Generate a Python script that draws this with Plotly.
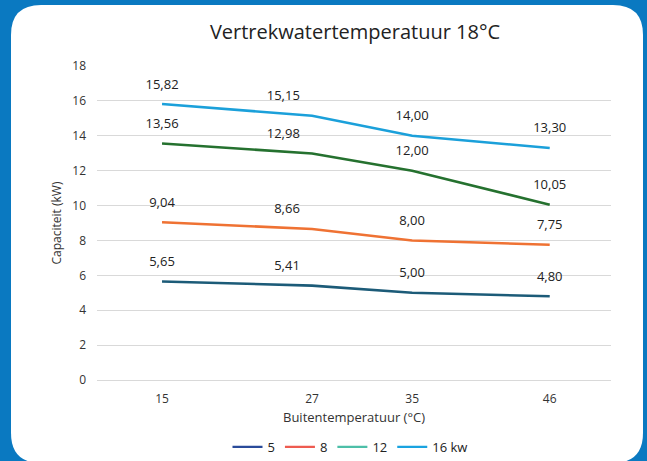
import plotly.graph_objects as go

# ---- data ----
outdoor_temp = [15, 27, 35, 46]
series_names = ["5", "8", "12", "16 kw"]
cap_5 = [5.65, 5.41, 5.00, 4.80]
cap_8 = [9.04, 8.66, 8.00, 7.75]
cap_12 = [13.56, 12.98, 12.00, 10.05]
cap_16 = [15.82, 15.15, 14.00, 13.30]
y_ticks = [0, 2, 4, 6, 8, 10, 12, 14, 16, 18]

W, H = 647, 461
L, R, T, B = 97, 36, 66, 81
PW, PH = W - L - R, H - T - B

line_colors = ["#1c5b78", "#ef7233", "#25712f", "#1ba0da"]
legend_colors = ["#2a4b9a", "#ee5b50", "#4dbfa8", "#1aa3e0"]
font_family = "Open Sans, Noto Sans, sans-serif"

fig = go.Figure()
positions = ["top center", "top left", "top center", "top center"]
for vals, col in zip([cap_5, cap_8, cap_12, cap_16], line_colors):
    fig.add_trace(go.Scatter(
        x=outdoor_temp, y=vals, mode="lines+markers+text",
        line=dict(color=col, width=2.6),
        marker=dict(size=18, color="rgba(0,0,0,0)"),
        texttemplate="%{y:.2f}", textposition=positions,
        textfont=dict(size=13, color="#222222", family=font_family),
        showlegend=False, hoverinfo="skip", cliponaxis=False,
    ))
for name, col in zip(series_names, legend_colors):
    fig.add_trace(go.Scatter(
        x=[None], y=[None], mode="lines", name=name,
        line=dict(color=col, width=2.2),
    ))


def px(x):
    return (x - L) / PW


def py(y):
    return (T + PH - y) / PH


x0, x1, y0, y1, r = 11, 643, 5, 463, 30
path = (
    f"M {px(x0)} {py(y0 + r)} "
    f"Q {px(x0)} {py(y0)} {px(x0 + r)} {py(y0)} "
    f"L {px(x1 - r)} {py(y0)} "
    f"Q {px(x1)} {py(y0)} {px(x1)} {py(y0 + r)} "
    f"L {px(x1)} {py(y1 - r)} "
    f"Q {px(x1)} {py(y1)} {px(x1 - r)} {py(y1)} "
    f"L {px(x0 + r)} {py(y1)} "
    f"Q {px(x0)} {py(y1)} {px(x0)} {py(y1 - r)} Z"
)

fig.update_layout(
    width=W, height=H,
    margin=dict(l=L, r=R, t=T, b=B, autoexpand=False),
    paper_bgcolor="#0a79c1",
    plot_bgcolor="rgba(0,0,0,0)",
    separators=",.",
    font=dict(family=font_family, color="#333333", size=12),
    shapes=[dict(type="path", path=path, xref="paper", yref="paper",
                 fillcolor="white", line=dict(width=0), layer="below")],
    title=dict(text="Vertrekwatertemperatuur 18°C", x=355 / W, xanchor="center",
               y=1 - 32 / H, yanchor="middle",
               font=dict(size=20, color="#222222", family=font_family)),
    xaxis=dict(range=[9.8, 50.9], tickvals=outdoor_temp, ticktext=[str(v) for v in outdoor_temp],
               showgrid=False, zeroline=False, showline=False, automargin=False,
               tickfont=dict(size=12, color="#333333"), ticklabelstandoff=10,
               title=dict(text="Buitentemperatuur (°C)", font=dict(size=13, color="#333333"), standoff=6)),
    yaxis=dict(range=[0, 18], tickvals=y_ticks, showgrid=True, gridcolor="#d9d9d9", gridwidth=1,
               zeroline=True, zerolinecolor="#d9d9d9", zerolinewidth=1, showline=False, automargin=False,
               tickfont=dict(size=12, color="#333333"), ticklabelstandoff=10,
               title=dict(text="Capaciteit (kW)", font=dict(size=12, color="#333333"), standoff=8)),
    legend=dict(orientation="h", x=350 / W, xanchor="center", xref="container",
                y=1 - 447 / H, yref="container",
                yanchor="middle", font=dict(size=13, color="#222222"), bgcolor="rgba(0,0,0,0)",
                itemwidth=30, tracegroupgap=0),
)

fig.write_html("out.html", config={"displayModeBar": False},
               post_script="document.body.style.margin='0';document.body.style.overflow='hidden';")
